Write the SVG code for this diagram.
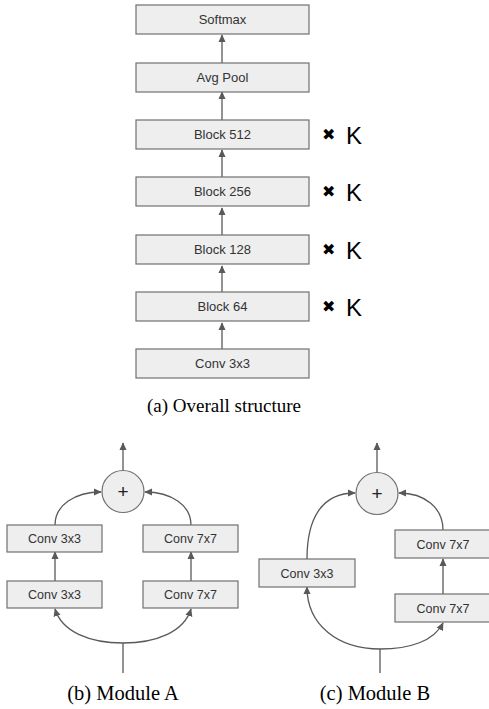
<svg xmlns="http://www.w3.org/2000/svg" width="489" height="709" viewBox="0 0 489 709">
<style>
.box{fill:#eeeeee;stroke:#707070;stroke-width:1.2}
.lbl{font-family:"Liberation Sans",Arial,sans-serif;font-size:13px;fill:#333;text-anchor:middle}
.mlbl{font-family:"Liberation Sans",Arial,sans-serif;font-size:12.5px;fill:#333;text-anchor:middle}
.con{fill:none;stroke:#595959;stroke-width:1.3}
.cap{font-family:"Liberation Serif","Times New Roman",serif;fill:#000;text-anchor:middle}
.k{font-family:"Liberation Sans",Arial,sans-serif;font-size:24px;fill:#000}
.x{font-family:"DejaVu Sans",sans-serif;font-size:16px;fill:#000}
.plus{font-family:"Liberation Sans",Arial,sans-serif;font-size:19px;fill:#222;text-anchor:middle}
</style>
<defs>
<marker id="ah" viewBox="0 0 10 10" refX="9" refY="5" markerWidth="8" markerHeight="8" markerUnits="userSpaceOnUse" orient="auto">
<path d="M0,0.5 L10,5 L0,9.5 z" fill="#595959"/>
</marker>
</defs>

<g id="connectors">
<line class="con" x1="222" y1="63" x2="222" y2="35" marker-end="url(#ah)"/>
<line class="con" x1="222" y1="120" x2="222" y2="92" marker-end="url(#ah)"/>
<line class="con" x1="222" y1="177" x2="222" y2="150" marker-end="url(#ah)"/>
<line class="con" x1="222" y1="235" x2="222" y2="208" marker-end="url(#ah)"/>
<line class="con" x1="222" y1="292" x2="222" y2="266" marker-end="url(#ah)"/>
<line class="con" x1="222" y1="349" x2="222" y2="323" marker-end="url(#ah)"/>
<line class="con" x1="123" y1="470" x2="123" y2="443" marker-end="url(#ah)"/>
<line class="con" x1="55" y1="581" x2="55" y2="552" marker-end="url(#ah)"/>
<line class="con" x1="191" y1="581" x2="191" y2="552" marker-end="url(#ah)"/>
<path class="con" d="M55,525 C55,505 75,492 101,492" marker-end="url(#ah)"/>
<path class="con" d="M191,525 C191,505 171,492 145,492" marker-end="url(#ah)"/>
<line class="con" x1="123" y1="673" x2="123" y2="643"/>
<path class="con" d="M123,643 C90,643 62,632 55,609" marker-end="url(#ah)"/>
<path class="con" d="M123,643 C156,643 184,632 191,609" marker-end="url(#ah)"/>
<line class="con" x1="377" y1="472" x2="377" y2="443" marker-end="url(#ah)"/>
<line class="con" x1="443" y1="594" x2="443" y2="559" marker-end="url(#ah)"/>
<path class="con" d="M307,559 C307,518 322,493 355,493" marker-end="url(#ah)"/>
<path class="con" d="M443,530 C443,508 425,493 399,493" marker-end="url(#ah)"/>
<line class="con" x1="380" y1="673" x2="380" y2="649"/>
<path class="con" d="M380,649 C338,649 307,625 307,587" marker-end="url(#ah)"/>
<path class="con" d="M380,649 C410,649 434,641 443,623" marker-end="url(#ah)"/>
</g>

<g id="softmax"><rect class="box" x="136" y="5" width="173" height="29"/><text class="lbl" x="222.5" y="24">Softmax</text></g>
<g id="avgpool"><rect class="box" x="136" y="63" width="173" height="29"/><text class="lbl" x="222.5" y="82">Avg Pool</text></g>
<g id="block512"><rect class="box" x="136" y="120" width="173" height="29"/><text class="lbl" x="222.5" y="139">Block 512</text><text class="x" x="322" y="140">✖</text><text class="k" x="346" y="144">K</text></g>
<g id="block256"><rect class="box" x="136" y="177" width="173" height="29"/><text class="lbl" x="222.5" y="196">Block 256</text><text class="x" x="322" y="197">✖</text><text class="k" x="346" y="201">K</text></g>
<g id="block128"><rect class="box" x="136" y="235" width="173" height="29"/><text class="lbl" x="222.5" y="254">Block 128</text><text class="x" x="322" y="255">✖</text><text class="k" x="346" y="259">K</text></g>
<g id="block64"><rect class="box" x="136" y="292" width="173" height="29"/><text class="lbl" x="222.5" y="311">Block 64</text><text class="x" x="322" y="312">✖</text><text class="k" x="346" y="316">K</text></g>
<g id="conv3x3-stem"><rect class="box" x="136" y="349" width="173" height="29"/><text class="lbl" x="222.5" y="368">Conv 3x3</text></g>
<text class="cap" x="224" y="412" font-size="19">(a) Overall structure</text>

<g id="a-plus"><circle cx="123" cy="491.5" r="21" fill="#eeeeee" stroke="#707070" stroke-width="1.2"/><text class="plus" x="123" y="498">+</text></g>
<g id="a-conv3-top"><rect class="box" x="7" y="525" width="95" height="27"/><text class="mlbl" x="54.5" y="543">Conv 3x3</text></g>
<g id="a-conv3-bot"><rect class="box" x="7" y="581" width="95" height="27"/><text class="mlbl" x="54.5" y="599">Conv 3x3</text></g>
<g id="a-conv7-top"><rect class="box" x="143" y="525" width="95" height="27"/><text class="mlbl" x="190.5" y="543">Conv 7x7</text></g>
<g id="a-conv7-bot"><rect class="box" x="143" y="581" width="95" height="27"/><text class="mlbl" x="190.5" y="599">Conv 7x7</text></g>
<text class="cap" x="123" y="700" font-size="20.5">(b) Module A</text>

<g id="b-plus"><circle cx="377" cy="493.5" r="21" fill="#eeeeee" stroke="#707070" stroke-width="1.2"/><text class="plus" x="377" y="500">+</text></g>
<g id="b-conv3"><rect class="box" x="259" y="559" width="96" height="28"/><text class="mlbl" x="307" y="577.5">Conv 3x3</text></g>
<g id="b-conv7-top"><rect class="box" x="395" y="530" width="96" height="28"/><text class="mlbl" x="443" y="548.5">Conv 7x7</text></g>
<g id="b-conv7-bot"><rect class="box" x="395" y="594" width="96" height="28"/><text class="mlbl" x="443" y="612.5">Conv 7x7</text></g>
<text class="cap" x="375" y="700" font-size="20.5">(c) Module B</text>
</svg>
